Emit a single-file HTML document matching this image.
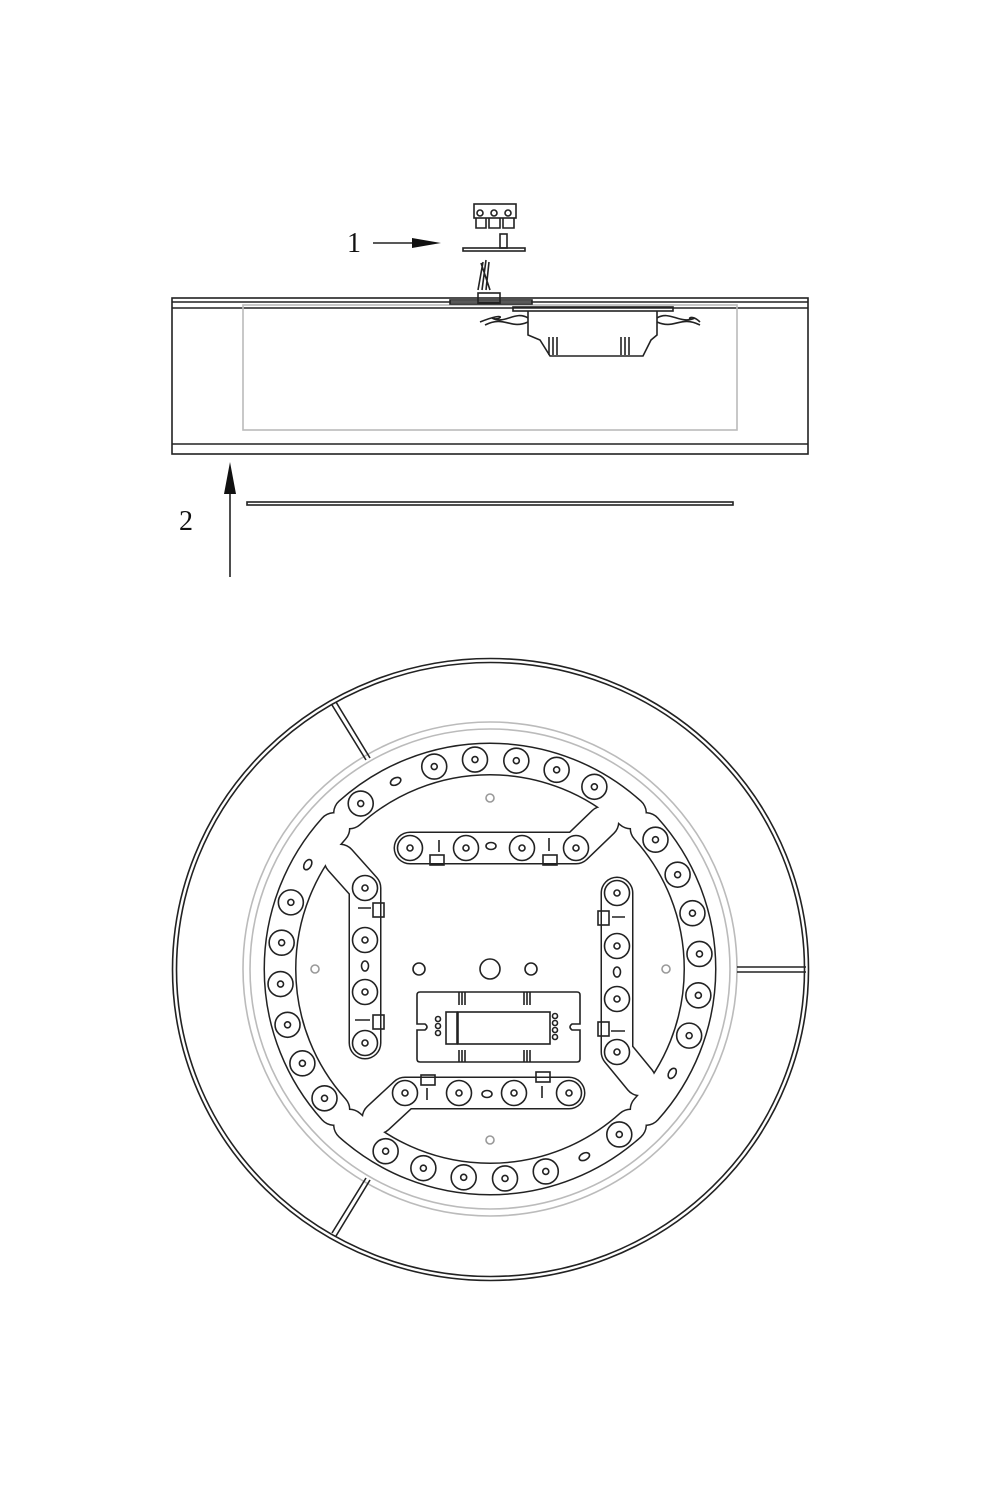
<!DOCTYPE html>
<html><head><meta charset="utf-8"><style>
html,body{margin:0;padding:0;background:#fff}
svg{display:block}
text{font-family:"Liberation Serif",serif;font-size:28px;fill:#111}
</style></head><body>
<svg id="s" width="1000" height="1500" viewBox="0 0 1000 1500" xmlns="http://www.w3.org/2000/svg">
<g fill="none" stroke="#222" stroke-width="1.6">
<rect x="172" y="298" width="636" height="156"/>
<line x1="172" y1="302" x2="808" y2="302"/>
<line x1="172" y1="308" x2="808" y2="308"/>
<line x1="172" y1="444" x2="808" y2="444"/>
<rect x="243" y="305" width="494" height="125" stroke="#bbb"/>
<rect x="450" y="300" width="82" height="4"/>
<rect x="478" y="293" width="22" height="10"/>
<path d="M478 290 L483 262 M482 290 L486 260 M486 290 L489 262 M490 290 L481 263"/>
<rect x="513" y="307" width="160" height="4"/>
<path d="M528 311 L528 335 L540 340 L550 356 L643 356 L651 340 L657 335 L657 311"/>
<path d="M549 337 L549 355 M553 337 L553 355 M557 337 L557 355 M621 337 L621 355 M625 337 L625 355 M629 337 L629 355"/>
<path d="M528 318 C515 310 505 325 492 318 C500 322 510 310 480 322 M528 322 C510 330 505 315 485 325" />
<path d="M657 318 C670 310 680 325 695 318 C685 322 690 312 700 322 M657 322 C675 330 680 315 700 325"/>
<rect x="474" y="204" width="42" height="14"/>
<path d="M476 218 L476 228 L486 228 L486 218 M489 218 L489 228 L500 228 L500 218 M503 218 L503 228 L514 228 L514 218"/>
<circle cx="480" cy="213" r="3"/><circle cx="494" cy="213" r="3"/><circle cx="508" cy="213" r="3"/>
<rect x="463" y="248" width="62" height="3"/>
<rect x="500" y="234" width="7" height="14"/>
<line x1="373" y1="243" x2="415" y2="243"/>
<line x1="230" y1="480" x2="230" y2="577"/>
<rect x="247" y="502" width="486" height="3"/>
</g>
<polygon points="412,238 441,243 412,248" fill="#111"/>
<polygon points="224,494 230,462 236,494" fill="#111"/>
<text x="347" y="252">1</text>
<text x="179" y="530">2</text>

<g fill="none" stroke="#222" stroke-width="1.6">
<ellipse cx="490.5" cy="969.5" rx="318" ry="311"/>
<ellipse cx="490.5" cy="969.5" rx="314" ry="307"/>
<circle cx="490" cy="969" r="247" stroke="#bbb"/>
<circle cx="490" cy="969" r="240" stroke="#bbb"/>
<path d="M332 705 L366 760 M336 702 L370 758"/>
<path d="M332 1233 L366 1178 M336 1236 L370 1180"/>
<path d="M737 967 L806 967 M737 972 L806 972"/>
</g>
<g id="bands"></g>
<g id="leds" fill="none" stroke="#222" stroke-width="1.6"></g>
<g fill="none" stroke="#222" stroke-width="1.6">
<circle cx="419" cy="969" r="6"/><circle cx="490" cy="969" r="10"/><circle cx="531" cy="969" r="6"/>
<g stroke="#999"><circle cx="490" cy="798" r="4"/><circle cx="490" cy="1140" r="4"/><circle cx="315" cy="969" r="4"/><circle cx="666" cy="969" r="4"/></g>
<path d="M420 992 H577 Q580 992 580 995 V1024 H572 Q568 1027 572 1030 H580 V1059 Q580 1062 577 1062 H420 Q417 1062 417 1059 V1030 H425 Q429 1027 425 1024 H417 V995 Q417 992 420 992 Z"/>
<rect x="458" y="1012" width="92" height="32"/>
<rect x="446" y="1012" width="11" height="32"/>
<path d="M459 992 V1005 M462 992 V1005 M465 992 V1005 M524 992 V1005 M527 992 V1005 M530 992 V1005 M459 1050 V1062 M462 1050 V1062 M465 1050 V1062 M524 1050 V1062 M527 1050 V1062 M530 1050 V1062"/>
<circle cx="438" cy="1019" r="2.5"/><circle cx="438" cy="1026" r="2.5"/><circle cx="438" cy="1033" r="2.5"/>
<circle cx="555" cy="1016" r="2.5"/><circle cx="555" cy="1023" r="2.5"/><circle cx="555" cy="1030" r="2.5"/><circle cx="555" cy="1037" r="2.5"/>
<rect x="430" y="855" width="14" height="10"/><rect x="543" y="855" width="14" height="10"/>
<rect x="373" y="903" width="11" height="14"/><rect x="373" y="1015" width="11" height="14"/>
<rect x="598" y="911" width="11" height="14"/><rect x="598" y="1022" width="11" height="14"/>
<rect x="421" y="1075" width="14" height="10"/><rect x="536" y="1072" width="14" height="10"/>
<path d="M439 840 V852 M549 838 V851 M358 908 H371 M355 1020 H370 M612 917 H625 M611 1031 H625 M427 1088 V1100 M542 1086 V1098"/>
</g>
<script>
(function(){
var NS="http://www.w3.org/2000/svg",cx=490,cy=969,R=210;
var bands=document.getElementById('bands'),leds=document.getElementById('leds');
function pt(a){var r=a*Math.PI/180;return [cx+R*Math.cos(r),cy-R*Math.sin(r)];}
function arc(a1,a2){var p=pt(a1),q=pt(a2);return "M"+p[0]+" "+p[1]+" A"+R+" "+R+" 0 0 1 "+q[0]+" "+q[1];}
var segs=[[132,48],[42,-42],[-48,-132],[222,138]];
var tongues=[
 "M410 848 L576 848 M576 848 L603 822",
 "M365 888 L365 1043 M365 888 L340 860",
 "M617 893 L617 1052 M617 1052 L640 1080",
 "M405 1093 L569 1093 M405 1093 L378 1118"];
function add(par,tag,at){var e=document.createElementNS(NS,tag);for(var k in at)e.setAttribute(k,at[k]);par.appendChild(e);return e;}
var ds=segs.map(function(s){return arc(s[0],s[1]);}).concat(tongues);
ds.forEach(function(d){add(bands,'path',{d:d,fill:'none',stroke:'#222','stroke-width':33,'stroke-linecap':'round','stroke-linejoin':'round'});});
ds.forEach(function(d){add(bands,'path',{d:d,fill:'none',stroke:'#fff','stroke-width':30,'stroke-linecap':'round','stroke-linejoin':'round'});});
function led(x,y){add(leds,'circle',{cx:x,cy:y,r:12.5});add(leds,'circle',{cx:x,cy:y,r:3});}
segs.forEach(function(s,i){
 var n=0;
 for(var a=s[0]-4;a>=s[1]+3;a-=11.3){var p=pt(a);
  if(n==(i%2?6:1)){add(leds,'ellipse',{cx:p[0],cy:p[1],rx:5.5,ry:3.5,transform:'rotate('+(-a+90)+' '+p[0]+' '+p[1]+')'});}
  else led(p[0],p[1]);n++;}
});
[[410,848],[466,848],[522,848],[576,848],[365,888],[365,940],[365,992],[365,1043],[617,893],[617,946],[617,999],[617,1052],[405,1093],[459,1093],[514,1093],[569,1093]].forEach(function(p){led(p[0],p[1]);});
add(leds,'ellipse',{cx:491,cy:846,rx:5,ry:3.5});add(leds,'ellipse',{cx:365,cy:966,rx:3.5,ry:5});
add(leds,'ellipse',{cx:617,cy:972,rx:3.5,ry:5});add(leds,'ellipse',{cx:487,cy:1094,rx:5,ry:3.5});
})();
</script>
</svg>
</body></html>
